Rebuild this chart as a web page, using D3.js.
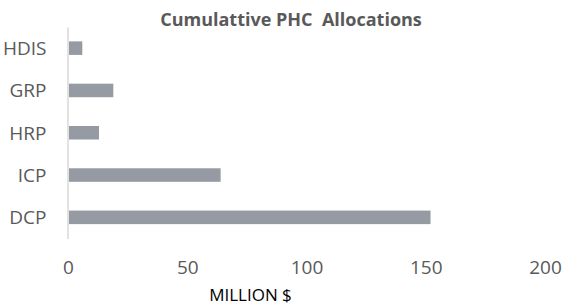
<!DOCTYPE html>
<html>
<head>
<meta charset="utf-8">
<script src="https://cdn.jsdelivr.net/npm/d3@7"></script>
<style>
body { margin: 0; background: #fff; }
svg { display: block; font-family: "Open Sans", sans-serif; }
</style>
</head>
<body>
<svg></svg>
<script>
var categories = ["HDIS", "GRP", "HRP", "ICP", "DCP"];
var allocations = [6, 19, 13, 64, 152];
var xTicks = [0, 50, 100, 150, 200];

var width = 565, height = 306;
var svg = d3.select("svg").attr("width", width).attr("height", height);

var xScale = d3.scaleLinear().domain([0, 200]).range([68, 545]);
var yScale = d3.scaleBand().domain(categories).range([27, 238.5])
  .paddingInner(0.68).paddingOuter(0.34);

// bars
svg.selectAll("rect.bar").data(allocations).enter().append("rect")
  .attr("class", "bar")
  .attr("x", xScale(0) + 1)
  .attr("y", function(d, i) { return yScale(categories[i]); })
  .attr("width", function(d) { return xScale(d) - xScale(0) - 1; })
  .attr("height", yScale.bandwidth())
  .attr("fill", "#969ba3");

// category axis
var yAxis = d3.axisLeft(yScale).tickSize(0).tickSizeOuter(0).tickPadding(21);
var gy = svg.append("g").attr("transform", "translate(67.5,0)").call(yAxis);
gy.select(".domain").attr("stroke", "#d9d9d9").attr("stroke-width", 1.5);
gy.selectAll("text").attr("font-size", "19px").attr("fill", "#595959")
  .attr("font-family", "Open Sans, sans-serif").attr("dy", "0.36em");

// value axis
var xAxis = d3.axisBottom(xScale).tickValues(xTicks).tickSize(0);
var gx = svg.append("g").attr("transform", "translate(0,238)").call(xAxis);
gx.select(".domain").remove();
gx.selectAll("text").attr("font-size", "19px").attr("fill", "#595959")
  .attr("font-family", "Open Sans, sans-serif").attr("dy", 0).attr("y", 36);

// title
svg.append("text")
  .attr("x", 291).attr("y", 26)
  .attr("text-anchor", "middle")
  .attr("font-size", "18px").attr("font-weight", "bold").attr("fill", "#595959")
  .style("white-space", "pre")
  .text("Cumulattive PHC  Allocations");

// axis title
svg.append("text")
  .attr("x", 250.5).attr("y", 301)
  .attr("text-anchor", "middle")
  .attr("font-size", "17px").attr("fill", "#000")
  .text("MILLION $");
</script>
</body>
</html>
